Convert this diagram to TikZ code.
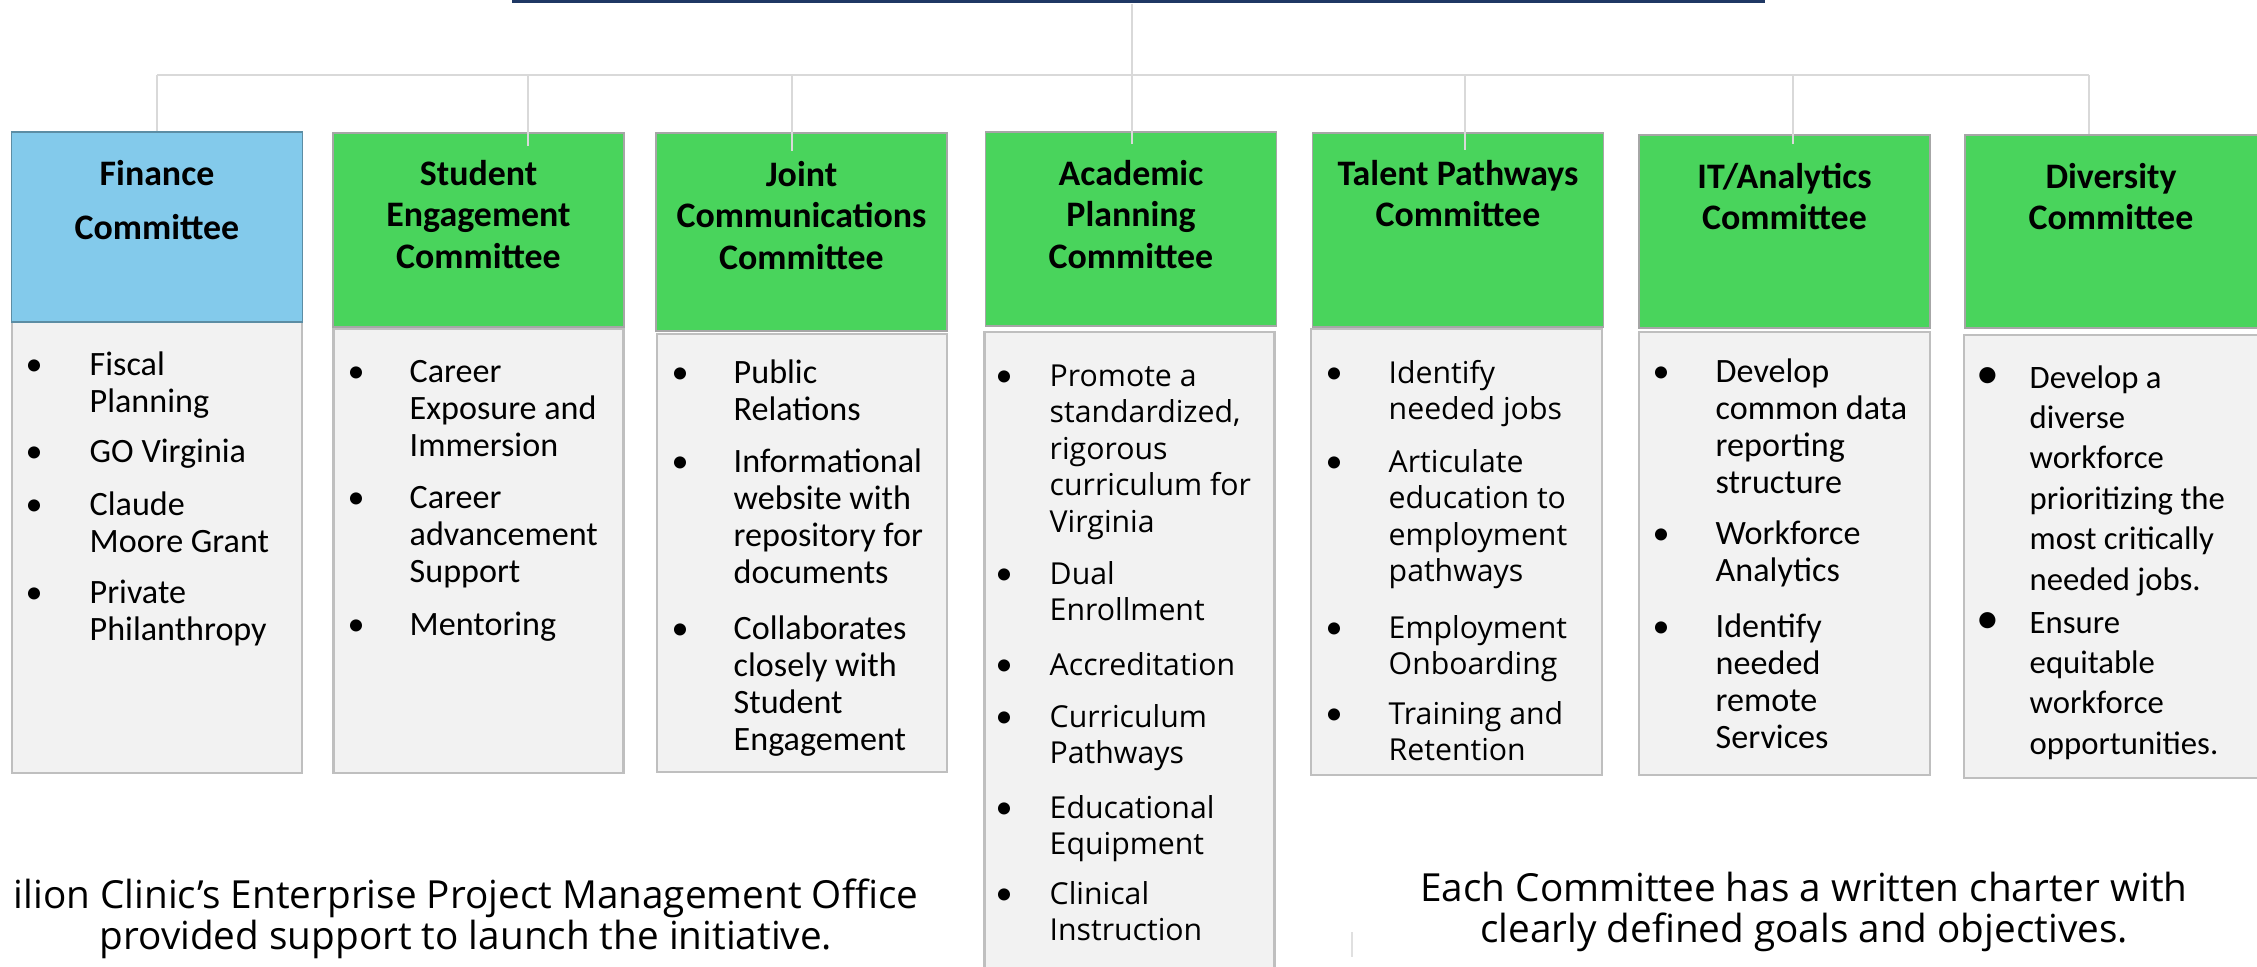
\documentclass[tikz,border=0pt]{standalone}
\usepackage{fontspec}
\setmainfont{Carlito}
\newfontfamily\aptos{Open Sans}
\definecolor{chartgreen}{RGB}{73,212,92}
\definecolor{chartblue}{RGB}{131,202,235}
\definecolor{chartnavy}{RGB}{31,56,100}
\definecolor{bodygray}{RGB}{242,242,242}
\definecolor{edgegray}{RGB}{191,191,191}
\definecolor{linegray}{RGB}{217,217,217}
\newcommand{\topstack}[2][l]{\begin{tabular}[t]{@{}#1@{}}#2\end{tabular}}

\begin{document}
\begin{tikzpicture}[x=0.01cm,y=-0.01cm,
  hdrbox/.style={draw=black!35,line width=0.5pt,minimum width=2.91cm,inner sep=0},
  bodybox/.style={fill=bodygray,draw=edgegray,line width=0.7pt,minimum width=2.9cm,inner sep=0},
  conn/.style={draw=linegray,line width=0.8pt},
  hdrtext/.style={anchor=base,inner sep=0,font=\bfseries\fontsize{10.2}{11.9}\selectfont},
  item/.style={anchor=base west,inner sep=0,font=\fontsize{9.7}{10.53}\selectfont},
  aptitem/.style={item,font=\aptos\fontsize{8.6}{10.4}\selectfont},
  divitem/.style={item,font=\fontsize{9.3}{11.5}\selectfont},
  dot/.style={anchor=base,inner sep=0,font=\fontsize{9.7}{10.53}\selectfont},
  bigdot/.style={dot,font=\fontsize{13}{13}\selectfont},
  note/.style={anchor=base,inner sep=0,font=\aptos\fontsize{11}{11.7}\selectfont}]
  \path[use as bounding box,clip] (0,0) rectangle (2257,966);

  % body boxes
  \node[bodybox,minimum height=4.51cm] (finbody) at (157,547.5) {};
  \node[bodybox,minimum height=4.44cm] (stubody) at (478.5,551) {};
  \node[bodybox,minimum height=4.38cm] (jntbody) at (802,553) {};
  \node[bodybox,minimum height=6.60cm] (acabody) at (1129.5,662) {};
  \node[bodybox,minimum height=4.46cm,minimum width=2.91cm] (talbody) at (1456.5,552) {};
  \node[bodybox,minimum height=4.43cm,minimum width=2.91cm] (itbody) at (1784.5,553.5) {};
  \node[bodybox,minimum height=4.43cm,minimum width=2.94cm] (divbody) at (2111,556.5) {};

  % committee headers
  \node[hdrbox,fill=chartblue,draw=chartblue!70!black,minimum height=1.90cm] (fin) at (157,227) {};
  \node[hdrbox,fill=chartgreen,minimum height=1.94cm] (stu) at (478.5,230) {};
  \node[hdrbox,fill=chartgreen,minimum height=1.98cm] (jnt) at (801.5,232) {};
  \node[hdrbox,fill=chartgreen,minimum height=1.94cm] (aca) at (1131,229) {};
  \node[hdrbox,fill=chartgreen,minimum height=1.94cm] (tal) at (1458,230) {};
  \node[hdrbox,fill=chartgreen,minimum height=1.93cm] (it) at (1784.5,231.5) {};
  \node[hdrbox,fill=chartgreen,minimum height=1.93cm,minimum width=2.93cm] (div) at (2111.5,231.5) {};

  \node[fill=chartnavy,inner sep=0,minimum width=12.53cm,minimum height=0.03cm] (title) at (1138.5,1.5) {};

  % org lines (drops are off centre, as in the chart)
  \coordinate (fin-top) at (157,75);
  \coordinate (stu-top) at (528,75);
  \coordinate (jnt-top) at (792,75);
  \coordinate (aca-top) at (1132,75);
  \coordinate (tal-top) at (1465,75);
  \coordinate (it-top) at (1793,75);
  \coordinate (div-top) at (2089,75);
  \draw[conn] (aca-top |- title.south) -- (aca-top |- aca.north) -- ++(0,13);
  \draw[conn] (fin-top) -- (div-top);
  \foreach \n/\d in {fin/0,stu/14,jnt/19,tal/18,it/10,div/0}
    \draw[conn] (\n-top) -- (\n-top |- \n.north) -- ++(0,\d);

  \node[hdrtext,font=\bfseries\fontsize{10.2}{15.6}\selectfont] (fin-t) at (157,185) {\topstack[c]{Finance\\Committee}};
  \node[hdrtext] (stu-t) at (478.5,185) {\topstack[c]{Student\\Engagement\\Committee}};
  \node[hdrtext] (jnt-t) at (801.5,186) {\topstack[c]{Joint\\Communications\\Committee}};
  \node[hdrtext] (aca-t) at (1131,185) {\topstack[c]{Academic\\Planning\\Committee}};
  \node[hdrtext] (tal-t) at (1458,185) {\topstack[c]{Talent Pathways\\Committee}};
  \node[hdrtext] (it-t) at (1784.5,188) {\topstack[c]{IT/Analytics\\Committee}};
  \node[hdrtext] (div-t) at (2111,188) {\topstack[c]{Diversity\\Committee}};

  % bullet lists
  \foreach \y/\txt [count=\i] in {375/{Fiscal\\Planning},462/{GO Virginia},
      515/{Claude\\Moore Grant},603/{Private\\Philanthropy}}{
    \node[dot] (fin-d\i) at (34,\y) {•};
    \node[item] (fin-\i) at (89,\y) {\topstack{\txt}};
  }
  \foreach \y/\txt [count=\i] in {382/{Career\\Exposure and\\Immersion},
      508/{Career\\advancement\\Support},635/{Mentoring}}{
    \node[dot] (stu-d\i) at (356,\y) {•};
    \node[item] (stu-\i) at (409,\y) {\topstack{\txt}};
  }
  \foreach \y/\txt [count=\i] in {383/{Public\\Relations},
      472/{Informational\\website with\\repository for\\documents},
      639/{Collaborates\\closely with\\Student\\Engagement}}{
    \node[dot] (jnt-d\i) at (680,\y) {•};
    \node[item] (jnt-\i) at (733,\y) {\topstack{\txt}};
  }
  \foreach \y/\txt [count=\i] in {386/{Promote a\\standardized,\\rigorous\\curriculum for\\Virginia},
      584/{Dual\\Enrollment},675/{Accreditation},727/{Curriculum\\Pathways},
      818/{Educational\\Equipment},904/{Clinical\\Instruction}}{
    \node[dot] (aca-d\i) at (1004,\y) {•};
    \node[aptitem] (aca-\i) at (1049,\y) {\topstack{\txt}};
  }
  \foreach \y/\txt [count=\i] in {383/{Identify\\needed jobs},
      472/{Articulate\\education to\\employment\\pathways},
      638/{Employment\\Onboarding},724/{Training and\\Retention}}{
    \node[dot] (tal-d\i) at (1334,\y) {•};
    \node[aptitem] (tal-\i) at (1388,\y) {\topstack{\txt}};
  }
  \foreach \y/\txt [count=\i] in {382/{Develop\\common data\\reporting\\structure},
      544/{Workforce\\Analytics},637/{Identify\\needed\\remote\\Services}}{
    \node[dot] (it-d\i) at (1661,\y) {•};
    \node[item] (it-\i) at (1715,\y) {\topstack{\txt}};
  }
  \foreach \y/\txt [count=\i] in {388/{Develop a\\diverse\\workforce\\prioritizing the\\most critically\\needed jobs.},
      633/{Ensure\\equitable\\workforce\\opportunities.}}{
    \node[bigdot] (div-d\i) at (1988,\y) {•};
    \node[divitem] (div-\i) at (2029,\y) {\topstack{\txt}};
  }

  % notes under the chart
  \node[note] (pmo) at (466,908) {\topstack[c]{ilion Clinic’s Enterprise Project Management Office\\provided support to launch the initiative.}};
  \node[note] (charter) at (1804,901) {\topstack[c]{Each Committee has a written charter with\\clearly defined goals and objectives.}};
  \draw[black!12,line width=0.6pt] (1352,932) -- (1352,957);
\end{tikzpicture}
\end{document}
